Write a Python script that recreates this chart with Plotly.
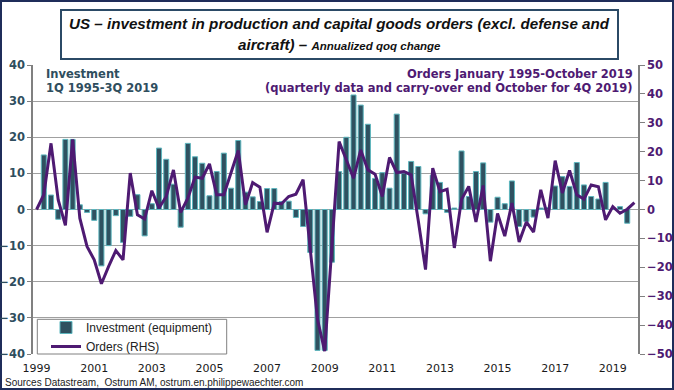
import plotly.graph_objects as go

# ---------------- data ----------------
quarters = [f"{q}Q{y}" for y in range(1999, 2020) for q in range(1, 5)]  # 1Q1999 .. 4Q2019

investment = [  # annualized qoq %, 1Q1999 .. 3Q2019 (left axis)
    None, 15.1, 4.0, -2.7, 19.4, 19.4, 1.3, -0.8,
    -3.0, -15.6, -10.0, -1.7, -9.1, -1.9, 4.1, -7.3,
    1.6, 17.0, 13.9, 7.0, -4.9, 18.3, 14.6, 12.8,
    3.8, 10.5, 15.6, 5.9, 19.1, 4.8, 3.5, 2.2,
    5.8, 5.8, 2.2, 2.3, -2.2, -4.7, -11.9, -39.0,
    -39.0, -14.6, 10.5, 20.0, 31.7, 28.9, 23.6, 8.6,
    10.2, 5.9, 26.4, 10.0, 13.3, 11.9, -1.2, 9.5,
    7.5, -0.8, 0.4, 16.2, 3.6, 10.5, 12.9, -3.5,
    3.4, 1.6, 7.9, -4.7, -3.3, -2.1, 0.4, 0.5,
    6.5, 9.1, 6.4, 13.0, 6.8, 3.6, 2.9, 7.5,
    0.2, 0.8, -3.8,
]

orders = [  # annualized qoq %, 1Q1999 .. 4Q2019 (right axis)
    0.0, 5.1, 22.9, 3.3, -5.5, 24.3, -3.0, -12.8,
    -17.4, -25.7, -19.7, -14.2, -17.4, 12.6, -1.8, -3.3,
    6.5, 0.5, 4.5, 13.7, -1.0, 3.9, 11.2, 10.8,
    15.8, 5.1, 5.1, 12.6, 20.4, 1.6, 9.3, 7.7,
    -7.9, 2.2, 2.0, 4.5, 5.3, 10.3, -14.0, -38.0,
    -49.0, -12.5, 23.5, 17.2, 10.8, 20.6, 13.7, 12.2,
    4.5, 18.0, 12.8, 13.1, 12.0, -4.0, -20.8, 14.3,
    6.2, 7.0, -13.3, 3.5, 8.0, -4.3, 8.3, -17.9,
    -1.4, -9.2, 2.2, -11.2, -4.3, -7.8, 6.8, -3.0,
    16.9, 5.7, 13.5, 5.1, 3.6, 8.5, 7.9, -3.6,
    1.0, -1.3, 0.1, 2.4,
]

year_ticks = [f"1Q{y}" for y in range(1999, 2020, 2)]
year_labels = [str(y) for y in range(1999, 2020, 2)]

# ---------------- geometry helpers ----------------
W, H = 674, 390
ML, MR, MT, MB = 33, 36, 65, 36
PW, PH = W - ML - MR, H - MT - MB


def px(x):
    return (x - ML) / PW


def py(y):
    return (H - MB - y) / PH


BAR_FILL = "#2F5160"
BAR_EDGE = "#5DB6BE"
PURPLE = "#4E1A72"
SLATE = "#2F4E5E"
GRID = "#A0A0A0"

fig = go.Figure()
fig.add_trace(go.Bar(
    x=quarters[:len(investment)], y=investment, name="Investment (equipment)",
    marker=dict(color=BAR_FILL, line=dict(color=BAR_EDGE, width=1)),
    yaxis="y",
))
fig.add_trace(go.Scatter(
    x=quarters, y=orders, name="Orders (RHS)", mode="lines",
    line=dict(color=PURPLE, width=3), yaxis="y2",
))

shapes = [
    # outer frame
    dict(type="rect", xref="paper", yref="paper", x0=px(1), x1=px(673), y0=py(389), y1=py(1),
         line=dict(color="#1F2D5A", width=2), layer="below"),
    # title box
    dict(type="rect", xref="paper", yref="paper", x0=px(61), x1=px(618), y0=py(59), y1=py(10),
         line=dict(color="#2B4A66", width=2), fillcolor="white", layer="above"),
    # legend box
    dict(type="rect", xref="paper", yref="paper", x0=px(37.3), x1=px(226.7), y0=py(354), y1=py(319.3),
         line=dict(color="#808080", width=1), fillcolor="white", layer="above"),
]

TITLE_FONT = "Liberation Sans Narrow, Liberation Sans"
annotations = [
    dict(text="<b><i>US – investment in production and capital goods orders (excl. defense and</i></b>",
         xref="paper", yref="paper", x=px(339.5), y=py(23), xanchor="center", yanchor="middle",
         showarrow=False, font=dict(family=TITLE_FONT, size=15.2, color="#111111")),
    dict(text="<b><i>aircraft) – <span style='font-size:11.5px'>Annualized qoq change</span></i></b>",
         xref="paper", yref="paper", x=px(339.5), y=py(44), xanchor="center", yanchor="middle",
         showarrow=False, font=dict(family=TITLE_FONT, size=15.2, color="#111111")),
    dict(text="<b>Investment</b>", xref="paper", yref="paper", x=px(44), y=py(74),
         xanchor="left", yanchor="middle", showarrow=False,
         font=dict(family="DejaVu Sans", size=11.5, color=SLATE)),
    dict(text="<b>1Q 1995-3Q 2019</b>", xref="paper", yref="paper", x=px(44), y=py(88),
         xanchor="left", yanchor="middle", showarrow=False,
         font=dict(family="DejaVu Sans", size=11.5, color=SLATE)),
    dict(text="<b>Orders January 1995-October 2019</b>", xref="paper", yref="paper", x=px(635), y=py(73.5),
         xanchor="right", yanchor="middle", showarrow=False,
         font=dict(family="DejaVu Sans", size=11.5, color=PURPLE)),
    dict(text="<b>(quarterly data and carry-over end October for 4Q 2019)</b>", xref="paper", yref="paper",
         x=px(635), y=py(88.3), xanchor="right", yanchor="middle", showarrow=False,
         font=dict(family="DejaVu Sans", size=11.5, color=PURPLE)),
    dict(text="Sources Datastream,  Ostrum AM, ostrum.en.philippewaechter.com", xref="paper", yref="paper",
         x=px(3), y=py(382), xanchor="left", yanchor="middle", showarrow=False,
         font=dict(family="Liberation Sans", size=10, color="#222222")),
]

fig.update_layout(
    width=W, height=H,
    margin=dict(l=ML, r=MR, t=MT, b=MB, pad=0, autoexpand=False),
    paper_bgcolor="white", plot_bgcolor="white",
    barmode="overlay", bargap=0.3,
    showlegend=True,
    legend=dict(x=px(46), y=py(313), xanchor="left", yanchor="top",
                bgcolor="rgba(0,0,0,0)", borderwidth=0,
                font=dict(family="Liberation Sans", size=12, color="#222222"),
                tracegroupgap=0, itemwidth=30),
    xaxis=dict(type="category", categoryorder="array", categoryarray=quarters,
               range=[-0.5, len(quarters) - 0.5], automargin=False,
               tickmode="array", tickvals=year_ticks, ticktext=year_labels,
               showgrid=False, zeroline=False, showline=False, ticks="",
               ticklabelstandoff=6,
               tickfont=dict(family="DejaVu Sans", size=11, color="#1a1a1a")),
    yaxis=dict(range=[-40, 40], dtick=10, tick0=0, showgrid=True, gridcolor=GRID, gridwidth=1,
               zeroline=True, zerolinecolor=GRID, zerolinewidth=1, automargin=False,
               showline=True, linecolor="#808080", linewidth=1.5,
               ticks="outside", ticklen=4, tickcolor="#808080",
               tickfont=dict(family="DejaVu Sans", size=11.5, color=SLATE, weight="bold")),
    yaxis2=dict(range=[-50, 50], dtick=10, tick0=0, overlaying="y", side="right",
                showgrid=False, zeroline=False, automargin=False,
                showline=True, linecolor="#808080", linewidth=1.5,
                ticks="outside", ticklen=5, tickcolor="#808080",
                tickfont=dict(family="DejaVu Sans", size=11.5, color=PURPLE, weight="bold")),
    shapes=shapes,
    annotations=annotations,
)

fig.write_html(
    "out.html",
    config={"displayModeBar": False},
    post_script="document.body.style.margin='0';document.body.style.overflow='hidden';",
)
